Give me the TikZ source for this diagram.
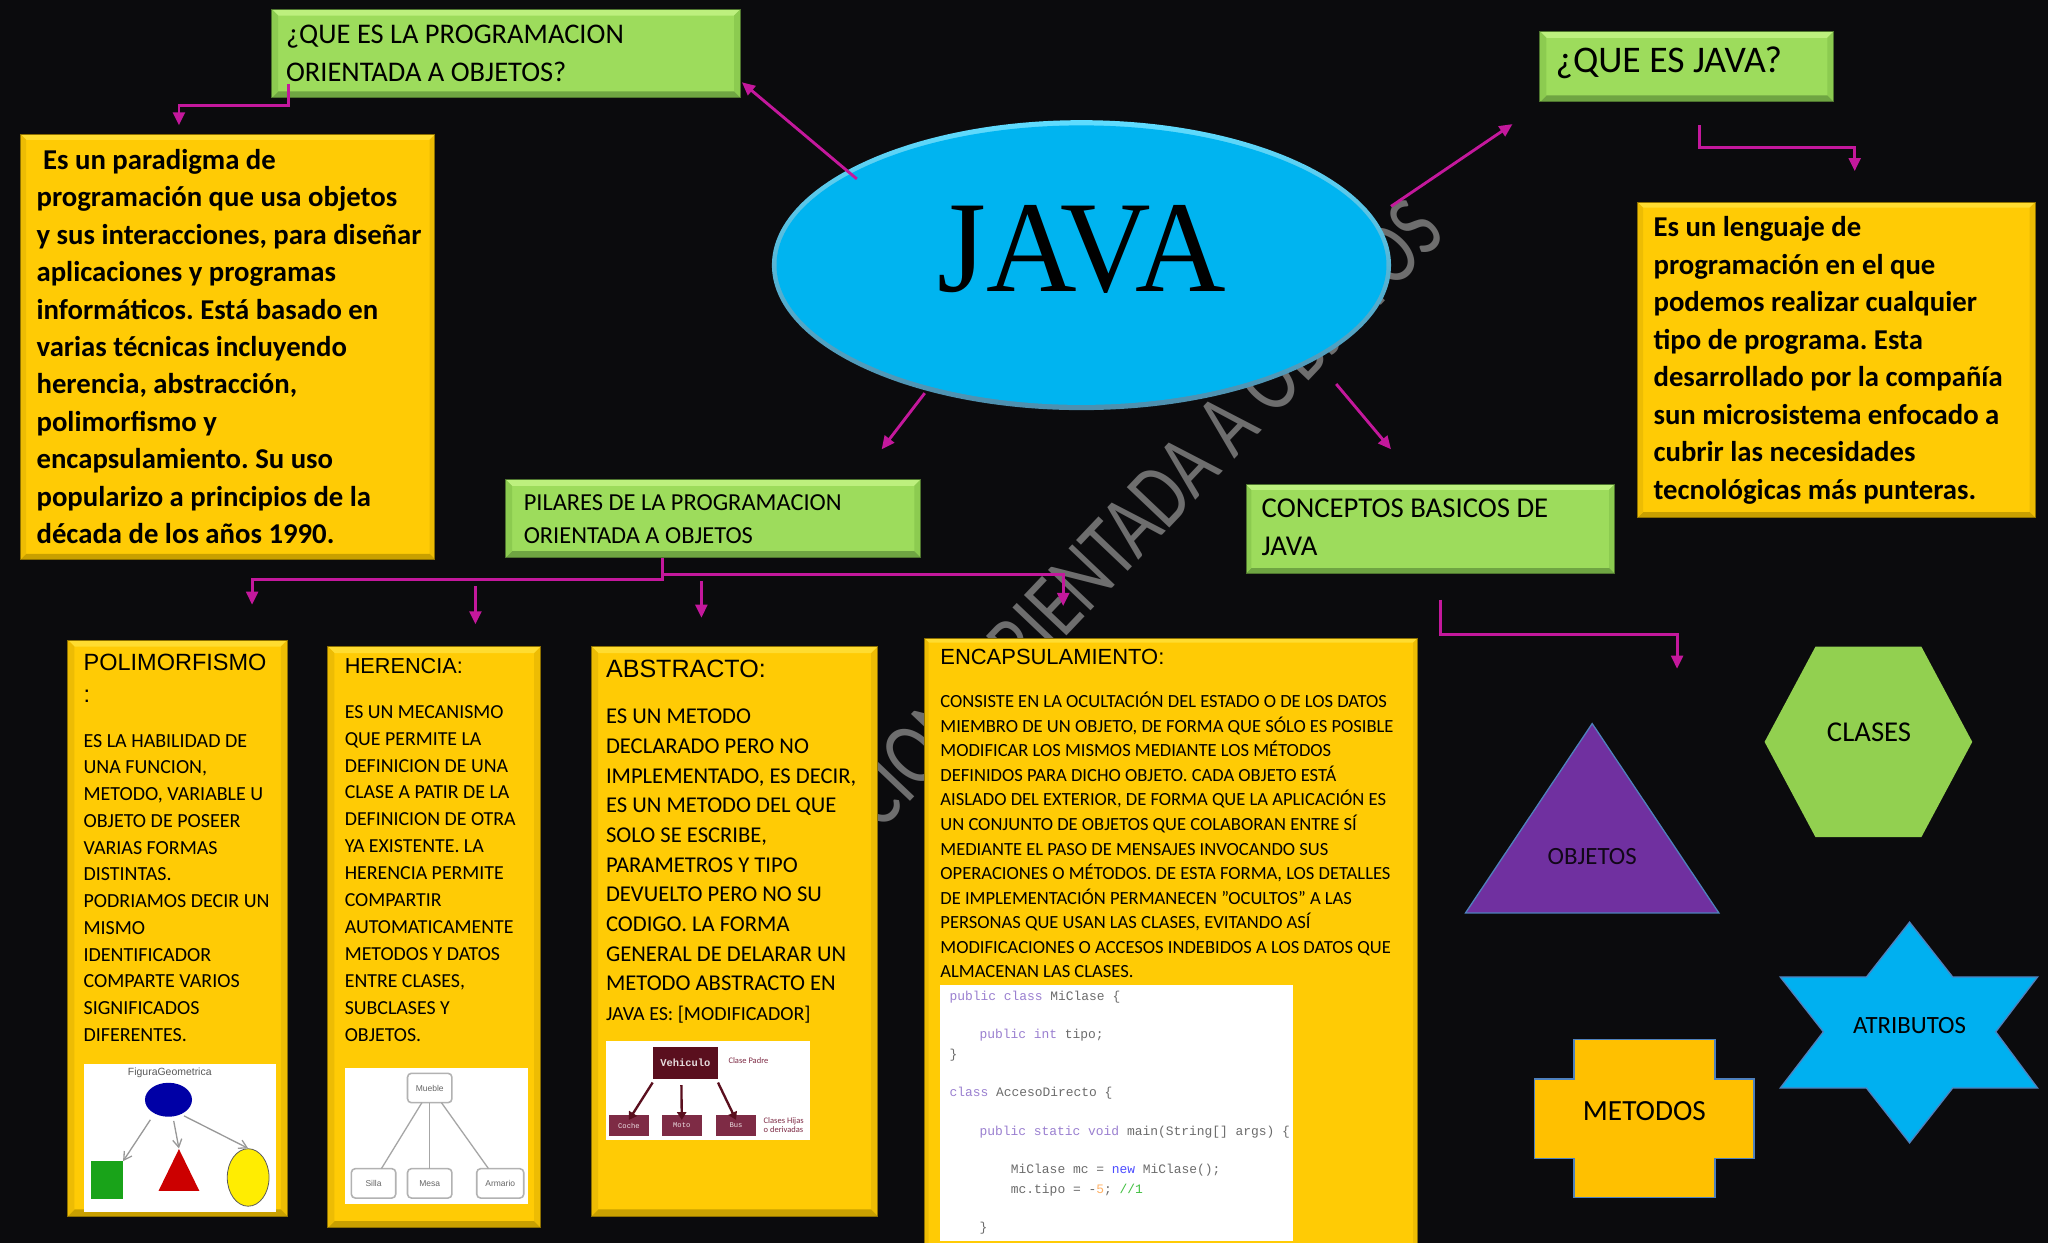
\documentclass[tikz,border=0pt]{standalone}
\usepackage{fontspec}
\setmainfont{Carlito}
\newfontfamily\arl{Liberation Sans}
\newfontfamily\monof{Liberation Mono}
\newfontfamily\javf{Liberation Serif}
\usetikzlibrary{arrows.meta,shapes.geometric}
\frenchspacing
\definecolor{bgc}{HTML}{0B0B0D}
\definecolor{yel}{HTML}{FFCB05}
\definecolor{yelL}{HTML}{FFDC30}
\definecolor{yelS}{HTML}{EDBC04}
\definecolor{yelD}{HTML}{C9A000}
\definecolor{gre}{HTML}{9DDC5C}
\definecolor{greL}{HTML}{BDF07E}
\definecolor{greS}{HTML}{8CCB50}
\definecolor{greD}{HTML}{6FA542}
\definecolor{mag}{HTML}{C4189C}
\definecolor{kw}{HTML}{9A7FD0}
\definecolor{wine}{HTML}{5A0F1E}
\definecolor{wine2}{HTML}{7E2B45}
\definecolor{sky}{HTML}{00B4F0}
\definecolor{skyL}{HTML}{5FDCFF}
\definecolor{skyD}{HTML}{4E8FAE}
\definecolor{purp}{HTML}{7030A0}
\definecolor{hexg}{HTML}{92D050}
\definecolor{starb}{HTML}{00B0F0}
\definecolor{plusy}{HTML}{FFC000}
\definecolor{edgeb}{HTML}{4F81BD}
\definecolor{wmg}{HTML}{6E6E6E}
\tikzset{
  x=1pt,y=-1pt,
  bx/.style={rectangle,inner sep=0pt,outer sep=0pt},
  lab/.style={inner sep=0pt,outer sep=0pt,anchor=north west,align=left,text=black},
  ctr/.style={inner sep=0pt,outer sep=0pt,anchor=center,align=center,text=black},
  cn/.style={draw=mag,line width=2.2pt,-{Triangle[length=10pt,width=9pt]}},
  pic1arrow/.style={draw=gray!80,line width=1pt,-{Straight Barb[length=6pt,width=7pt]}},
  rbox/.style={bx,draw=gray!60,line width=1.2pt,rounded corners=3pt,fill=white,font=\arl\fontsize{6.5}{8}\selectfont,text=gray!80!black},
  wbox/.style={bx,fill=white},
  wn/.style={bx,fill=wine2,text=white!85!wine2,font=\monof\fontsize{5.5}{7}\selectfont},
  wa/.style={draw=wine,line width=1.8pt,-{Triangle[length=6pt,width=7pt]}},
  code/.style={inner sep=0pt,outer sep=0pt,anchor=west,font=\monof\fontsize{9.9}{11}\selectfont,text=gray!85!black},
}
% name, x1, y1, x2, y2, colour prefix, bevel
\newcommand{\bevbox}[7]{%
  \pgfmathsetmacro{\bw}{#4-#2}\pgfmathsetmacro{\bh}{#5-#3}%
  \pgfmathsetmacro{\bcx}{(#4+#2)/2}\pgfmathsetmacro{\bcy}{(#5+#3)/2}%
  \node[bx,fill=#6,minimum width=\bw pt,minimum height=\bh pt] (#1) at (\bcx,\bcy) {};
  \fill[#6L] (#2,#3) -- (#4,#3) -- ++(-#7,#7) -- (#2+#7,#3+#7) -- cycle;
  \fill[#6S] (#4,#3) -- (#4,#5) -- ++(-#7,-#7) -- (#4-#7,#3+#7) -- cycle;
  \fill[#6D] (#2,#5) -- (#4,#5) -- ++(-#7,-#7) -- (#2+#7,#5-#7) -- cycle;
  \fill[#6S] (#2,#3) -- (#2,#5) -- ++(#7,-#7) -- (#2+#7,#3+#7) -- cycle;
  \draw[#6D!70!black,line width=.7pt] (#2,#3) rectangle (#4,#5);
}
\begin{document}
\begin{tikzpicture}
\fill[bgc] (0,0) rectangle (1568,951.66);
\useasboundingbox (0,0) rectangle (1568,951.66);

% watermark
\node[inner sep=0pt,rotate=46.5,xscale=.77,text=wmg,font=\fontsize{70}{74}\selectfont] (wm) at (875,393) {CION ORIENTADA A OBJETOS};

% main ellipse
\node[ellipse,inner sep=0pt,outer sep=0pt,minimum width=474pt,minimum height=222pt,top color=skyL,bottom color=skyD] (java) at (828,203) {};
\node[ellipse,inner sep=0pt,outer sep=0pt,minimum width=467pt,minimum height=214pt,fill=sky] (javain) at (828,203) {};
\node[ctr,font=\javf\fontsize{96}{100}\selectfont,yscale=1.04] (javat) at (828,191) {JAVA};

% green boxes
\bevbox{q1}{208}{7}{567}{75}{gre}{5}
\node[lab,font=\fontsize{21.8}{29}\selectfont] (q1t) at (219,19) {¿QUE ES LA PROGRAMACION\\ORIENTADA A OBJETOS?};
\bevbox{q2}{1179}{24}{1404}{78}{gre}{5}
\node[lab,font=\fontsize{28.8}{30}\selectfont] (q2t) at (1191,36) {¿QUE ES JAVA?};
\bevbox{pil}{387}{367}{705}{427}{gre}{5}
\node[lab,font=\fontsize{18.7}{25}\selectfont] (pilt) at (401,379) {PILARES DE LA PROGRAMACION\\ORIENTADA A OBJETOS};
\bevbox{con}{954}{371}{1236}{439}{gre}{4}
\node[lab,font=\fontsize{22}{29}\selectfont] (cont) at (966,382) {CONCEPTOS BASICOS DE\\JAVA};

% yellow text boxes
\bevbox{lft}{16}{103}{333}{428}{yel}{4}
\node[lab,font=\fontsize{22}{28.7}\selectfont\bfseries] (lftt) at (28,114) {\hspace*{5pt}Es un paradigma de\\programación  que usa objetos\\y sus interacciones, para diseñar\\aplicaciones y programas\\informáticos. Está basado en\\varias técnicas incluyendo\\herencia, abstracción,\\polimorfismo y\\encapsulamiento. Su uso\\popularizo a principios de la\\década de los años 1990.};
\bevbox{rgt}{1254}{155}{1558}{396}{yel}{4}
\node[lab,font=\fontsize{22}{28.7}\selectfont\bfseries] (rgtt) at (1266,166) {Es un lenguaje de\\programación en el que\\podemos realizar cualquier\\tipo de programa. Esta\\desarrollado por la compañía\\sun microsistema enfocado a\\cubrir las necesidades\\tecnológicas más punteras.};

% pillars
\bevbox{poli}{52}{490}{220}{931}{yel}{5}
\node[lab,font=\arl\fontsize{18}{24}\selectfont] (polih) at (64,501) {POLIMORFISMO\\:};
\node[lab,font=\fontsize{15.3}{20.5}\selectfont] (polit) at (64,562) {ES LA HABILIDAD DE\\UNA FUNCION,\\METODO, VARIABLE U\\OBJETO DE POSEER\\VARIAS FORMAS\\DISTINTAS.\\PODRIAMOS DECIR UN\\MISMO\\IDENTIFICADOR\\COMPARTE VARIOS\\SIGNIFICADOS\\DIFERENTES.};
\bevbox{here}{251}{495}{414}{940}{yel}{5}
\node[lab,font=\arl\fontsize{16.6}{20}\selectfont] (heret) at (264,504) {HERENCIA:};
\node[lab,font=\fontsize{15.2}{20.6}\selectfont] (heret2) at (264,540) {ES UN MECANISMO\\QUE PERMITE LA\\DEFINICION DE UNA\\CLASE A PATIR DE LA\\DEFINICION DE OTRA\\YA EXISTENTE. LA\\HERENCIA PERMITE\\COMPARTIR\\AUTOMATICAMENTE\\METODOS Y DATOS\\ENTRE CLASES,\\SUBCLASES Y\\OBJETOS.};
\bevbox{abst}{453}{495}{672}{931}{yel}{5}
\node[lab,font=\arl\fontsize{19.2}{24}\selectfont] (absh) at (464,505) {ABSTRACTO:};
\node[lab,font=\fontsize{17.3}{22.7}\selectfont] (abst2) at (464,543) {ES UN METODO\\DECLARADO PERO NO\\IMPLEMENTADO, ES DECIR,\\ES UN METODO DEL QUE\\SOLO SE ESCRIBE,\\PARAMETROS Y TIPO\\DEVUELTO PERO NO SU\\CODIGO. LA FORMA\\GENERAL DE DELARAR UN\\METODO ABSTRACTO EN\\{\fontsize{15.3}{22.7}\selectfont JAVA ES: [MODIFICADOR]}};
\bevbox{enc}{708}{489}{1085}{960}{yel}{3}
\node[lab,font=\arl\fontsize{16.8}{20}\selectfont] (ench) at (720,497) {ENCAPSULAMIENTO:};
\node[lab,font=\fontsize{14.2}{18.8}\selectfont] (enct) at (720,530) {CONSISTE EN LA OCULTACIÓN DEL ESTADO O DE LOS DATOS\\MIEMBRO DE UN OBJETO, DE FORMA QUE SÓLO ES POSIBLE\\MODIFICAR LOS MISMOS MEDIANTE LOS MÉTODOS\\DEFINIDOS PARA DICHO OBJETO. CADA OBJETO ESTÁ\\AISLADO DEL EXTERIOR, DE FORMA QUE LA APLICACIÓN ES\\UN CONJUNTO DE OBJETOS QUE COLABORAN ENTRE SÍ\\MEDIANTE EL PASO DE MENSAJES INVOCANDO SUS\\OPERACIONES O MÉTODOS. DE ESTA FORMA, LOS DETALLES\\DE IMPLEMENTACIÓN PERMANECEN {\symbol{34}}OCULTOS{\symbol{34}} A LAS\\PERSONAS QUE USAN LAS CLASES, EVITANDO ASÍ\\MODIFICACIONES O ACCESOS INDEBIDOS A LOS DATOS QUE\\ALMACENAN LAS CLASES.};

% poli picture
\node[wbox,minimum width=147pt,minimum height=113pt] (img1) at (137.5,871.5) {};
\node[inner sep=0pt,font=\arl\fontsize{8}{9}\selectfont,text=gray!70!black] (fg) at (130,821.5) {FiguraGeometrica};
\node[ellipse,inner sep=0pt,minimum width=36pt,minimum height=26pt,fill=blue!65!black] (blob) at (129,842) {};
\node[bx,fill=green!60!black!90!white,minimum width=24.5pt,minimum height=29pt] (sq) at (82,903.5) {};
\node[isosceles triangle,isosceles triangle apex angle=52,shape border rotate=90,inner sep=0pt,minimum height=32pt,minimum width=31pt,fill=red!80!black] (tri) at (137,902) {};
\node[ellipse,inner sep=0pt,minimum width=32pt,minimum height=44pt,fill=yellow!95!orange,draw=gray!70!black,line width=.6pt] (ell) at (190,901.5) {};
\draw[pic1arrow] (blob.south west) ++(-1,6) -- (sq.north east);
\draw[pic1arrow] (blob.south) ++(4,3) -- (tri.north);
\draw[pic1arrow] (blob.south east) ++(-1,3) -- (ell.north);

% herencia picture
\node[wbox,minimum width=140pt,minimum height=104pt] (img2) at (334,870) {};
\node[rbox,minimum width=34pt,minimum height=22.5pt] (mue) at (329,833) {Mueble};
\node[rbox,minimum width=34pt,minimum height=22.5pt] (sil) at (286,906) {Silla};
\node[rbox,minimum width=34pt,minimum height=22.5pt] (mes) at (329,906) {Mesa};
\node[rbox,minimum width=36pt,minimum height=22.5pt] (arm) at (383,906) {Armario};
\draw[gray!70,line width=1pt] ([xshift=-6pt]mue.south) -- ([xshift=6pt]sil.north);
\draw[gray!70,line width=1pt] (mue.south) -- (mes.north);
\draw[gray!70,line width=1pt] ([xshift=9pt]mue.south) -- ([xshift=-9pt]arm.north);

% abstracto picture
\node[wbox,minimum width=156pt,minimum height=76pt] (img3) at (542,835) {};
\node[bx,fill=wine,text=white!85!wine,font=\monof\bfseries\fontsize{8}{9}\selectfont,minimum width=49.5pt,minimum height=24pt] (veh) at (524.7,813.8) {Vehiculo};
\node[inner sep=0pt,font=\fontsize{6.5}{7}\selectfont,text=wine2] (cp) at (573,812) {Clase Padre};
\node[wn,minimum width=31pt,minimum height=16.5pt] (coc) at (481.5,861.7) {Coche};
\node[wn,minimum width=31pt,minimum height=16.5pt] (mot) at (522,861.7) {Moto};
\node[wn,minimum width=31pt,minimum height=16.5pt] (bus) at (563.5,861.7) {Bus};
\node[inner sep=0pt,align=left,font=\fontsize{6.5}{7}\selectfont,text=wine2] (ch) at (600,861.7) {Clases Hijas\\o derivadas};
\draw[wa] ([xshift=-25pt,yshift=-3pt]veh.south) -- ([yshift=-4pt]coc.north);
\draw[wa] ([xshift=-3pt,yshift=-5pt]veh.south) -- ([yshift=-4pt]mot.north);
\draw[wa] ([xshift=25pt,yshift=-3pt]veh.south) -- ([yshift=-4pt]bus.north);

% encapsulamiento picture
\node[wbox,minimum width=270pt,minimum height=196pt] (img4) at (855,852) {};
\node[code] (c1) at (727,763.5) {\textcolor{kw}{public class} MiClase \{};
\node[code] (c2) at (750,792.7) {\textcolor{kw}{public int} tipo;};
\node[code] (c3) at (727,808) {\}};
\node[code] (c4) at (727,837) {\textcolor{kw}{class} AccesoDirecto \{};
\node[code] (c5) at (750,867) {\textcolor{kw}{public static void} main(String[] args) \{};
\node[code] (c6) at (774,896) {MiClase mc = \textcolor{blue!70!white}{new} MiClase();};
\node[code] (c7) at (774,911) {mc.tipo = -\textcolor{orange!60!white}{5}; \textcolor{green!50!gray}{//1}};
\node[code] (c8) at (750,940.5) {\}};

% four shapes
\coordinate (t1) at (1219,554);\coordinate (t2) at (1316,699);\coordinate (t3) at (1122,699);
\draw[fill=purp,draw=edgeb,line width=1pt] (t1)--(t2)--(t3)--cycle;
\node[ctr,font=\fontsize{19}{20}\selectfont,text=black!85!purp] (obj) at (1219,656) {OBJETOS};
\fill[hexg] (1351,568)--(1390,495)--(1471,495)--(1510,568)--(1471,641)--(1390,641)--cycle;
\node[ctr,font=\fontsize{22}{24}\selectfont] (cla) at (1431,561) {CLASES};
\draw[fill=starb,draw=edgeb,line width=1pt] (1462,706)--(1495,748)--(1560,748)--(1528,790)--(1560,833)--(1495,833)--(1462,875)--(1429,833)--(1363,833)--(1396,790)--(1363,748)--(1429,748)--cycle;
\node[ctr,font=\fontsize{19}{20}\selectfont] (atr) at (1462,785) {ATRIBUTOS};
\draw[fill=plusy,draw=edgeb,line width=1pt] (1205,796)--(1313,796)--(1313,826)--(1343,826)--(1343,887)--(1313,887)--(1313,917)--(1205,917)--(1205,887)--(1175,887)--(1175,826)--(1205,826)--cycle;
\node[ctr,font=\fontsize{22.4}{24}\selectfont] (met) at (1259,851) {METODOS};

% connector ends
\coordinate (ja) at (656,137);\coordinate (jaE) at (568,63);
\coordinate (jb) at (1065,158);\coordinate (jbE) at (1158,95);
\coordinate (jc) at (708,301);\coordinate (jcE) at (675,344);
\coordinate (jd) at (1023,294);\coordinate (jdE) at (1065,344);
\coordinate (e1) at (137,96);
\coordinate (s2) at (1301,96);\coordinate (e2) at (1420,131);
\coordinate (p1) at (193,463);\coordinate (p2s) at (364,449);\coordinate (p2) at (364,478);
\coordinate (p3s) at (537,445);\coordinate (p3) at (537,473);\coordinate (p4) at (814,464);
\coordinate (s3) at (1103,459);\coordinate (e3) at (1284,512);

\draw[cn] (ja) -- (jaE);
\draw[cn] (jb) -- (jbE);
\draw[cn] (jc) -- (jcE);
\draw[cn] (jd) -- (jdE);
\draw[cn] ([xshift=13pt,yshift=11pt]q1.south west) -- ++(0,17) -| (e1);
\draw[cn] (s2) |- ++(119,17) -- (e2);
\draw[cn] (pil.south -| 507,0) -- (507,444) -| (p1);
\draw[cn] (pil.south -| 507,0) -- (507,440) -| (p4);
\draw[cn] (p2s) -- (p2);
\draw[cn] (p3s) -- (p3);
\draw[cn] (s3) |- ++(181,27) -- (e3);
\end{tikzpicture}
\end{document}
